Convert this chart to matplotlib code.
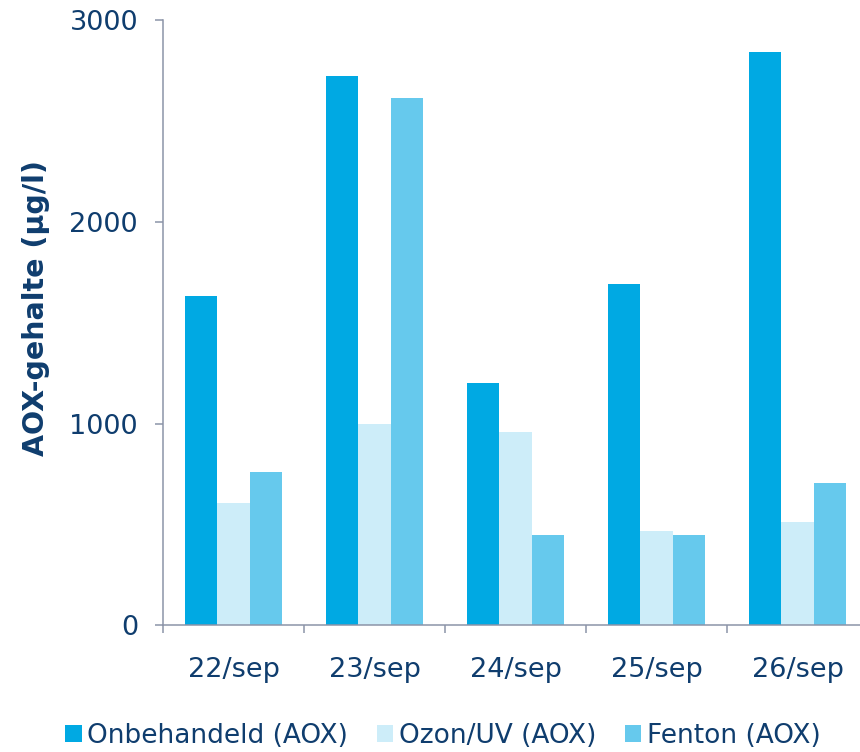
import matplotlib.pyplot as plt
import numpy as np

# AOX-gehalte per dag en behandeling
dagen = ['22/sep', '23/sep', '24/sep', '25/sep', '26/sep']
onbehandeld = [1630, 2720, 1200, 1690, 2840]
ozon_uv = [608, 996, 956, 466, 512]
fenton = [761, 2613, 449, 447, 704]

reeksen = ['Onbehandeld (AOX)', 'Ozon/UV (AOX)', 'Fenton (AOX)']
kleuren = ['#00A9E3', '#CDEDF9', '#66C9ED']
tekst = '#0F3D6E'
as_kleur = '#8C94A8'

W, H = 860, 752
fig = plt.figure(figsize=(W/100, H/100), dpi=100)
ax = fig.add_axes([163/W, (H-625.3)/H, (868-163)/W, 605.3/H])

x = np.arange(len(dagen))
b = 0.228
for i, (vals, naam, kl) in enumerate(zip([onbehandeld, ozon_uv, fenton], reeksen, kleuren)):
    ax.bar(x + (i-1)*b, vals, width=b, color=kl, label=naam, zorder=2)

ax.set_xlim(-0.5, 4.5)
ax.set_ylim(0, 3000)
ax.set_yticks([0, 1000, 2000, 3000])
ax.set_xticks(x)
ax.set_xticklabels(dagen)
ax.set_xticks(np.arange(-0.5, 5, 1), minor=True)
ax.tick_params(axis='x', which='major', length=0, pad=23, labelsize=19.5, labelcolor=tekst)
ax.tick_params(axis='x', which='minor', length=6, width=1.1, color=as_kleur, direction='out')
ax.tick_params(axis='y', length=6, width=1.1, color=as_kleur, pad=12, labelsize=19.5, labelcolor=tekst)

for s in ['top', 'right']:
    ax.spines[s].set_visible(False)
for s in ['left', 'bottom']:
    ax.spines[s].set_color(as_kleur)
    ax.spines[s].set_linewidth(1.1)

fig.text(36/W, 1 - 308/H, 'AOX-gehalte (µg/l)', rotation=90, ha='center', va='center',
         fontsize=20.5, fontweight='bold', color=tekst)

fig.legend(loc='lower center', bbox_to_anchor=(0.515, -0.027), ncol=3, frameon=False,
           fontsize=19, labelcolor=tekst, handlelength=0.62, handleheight=0.62,
           handletextpad=0.2, columnspacing=1.1)

fig.savefig('out.png', dpi=100)
